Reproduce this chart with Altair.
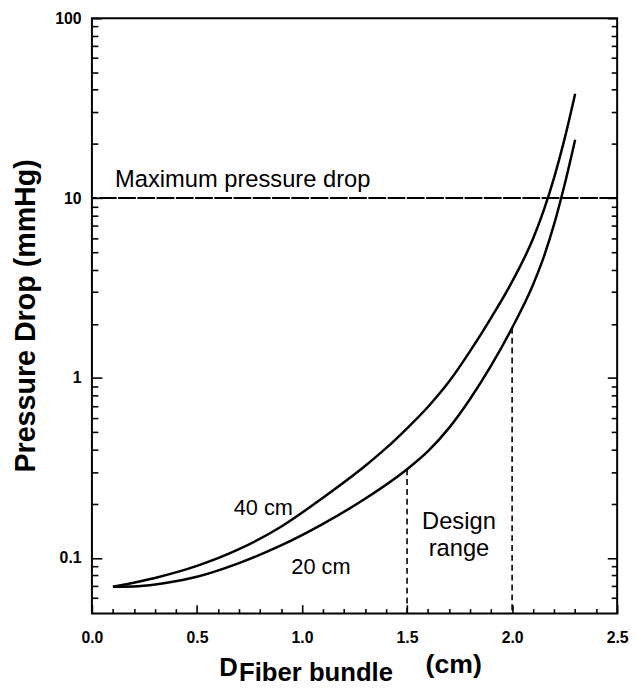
import altair as alt
import pandas as pd

# ---- data ----
x_40 = [0.10, 0.30, 0.50, 0.70, 0.90, 1.10, 1.30, 1.40, 1.50, 1.60, 1.70, 1.80, 1.90,
        2.00, 2.10, 2.15, 2.20, 2.25, 2.30]
p_40 = [0.069, 0.0773, 0.0902, 0.1117, 0.149, 0.216, 0.324, 0.407, 0.525, 0.692, 0.955,
        1.41, 2.16, 3.43, 5.96, 8.51, 13.0, 21.4, 38.0]
x_20 = [0.10, 0.22, 0.35, 0.50, 0.70, 0.90, 1.10, 1.30, 1.50, 1.60, 1.70, 1.80, 1.90,
        2.00, 2.10, 2.15, 2.20, 2.25, 2.30]
p_20 = [0.069, 0.0695, 0.0724, 0.0785, 0.0935, 0.1172, 0.1545, 0.213, 0.311, 0.392, 0.528,
        0.764, 1.17, 1.90, 3.31, 4.68, 7.16, 11.9, 21.1]
series_names = ["40 cm", "20 cm"]

design_x = [1.5, 2.0]
design_top = [0.311, 1.90]
design_bottom = [0.049, 0.049]
max_drop = [10]

x_label_values = [0.0, 0.5, 1.0, 1.5, 2.0, 2.5]
x_tick_values = [0.0, 0.1, 0.2, 0.3, 0.4, 0.5, 0.6, 0.7, 0.8, 0.9, 1.0, 1.1, 1.2, 1.3,
                 1.4, 1.5, 1.6, 1.7, 1.8, 1.9, 2.0, 2.1, 2.2, 2.3, 2.4, 2.5]
y_label_values = [0.1, 1, 10, 100]
y_tick_values = [0.06, 0.07, 0.08, 0.09, 0.1, 0.2, 0.3, 0.4, 0.5, 0.6, 0.7, 0.8, 0.9,
                 1, 2, 3, 4, 5, 6, 7, 8, 9, 10, 20, 30, 40, 50, 60, 70, 80, 90, 100]

curve_labels = ["40 cm", "20 cm"]
curve_label_x = [0.816, 1.09]
curve_label_y = [0.19, 0.089]
design_label = ["Design\nrange"]
design_label_x = [1.747]
design_label_y = [0.158]
max_label = ["Maximum pressure drop"]
max_label_x = [0.11]
max_label_y = [11.5]

FONT = "Liberation Sans"
W, H = 532, 603

curves = pd.concat([
    pd.DataFrame({"x": x_40, "p": p_40, "s": series_names[0]}),
    pd.DataFrame({"x": x_20, "p": p_20, "s": series_names[1]}),
])
design = pd.DataFrame({"x": design_x, "top": design_top, "bottom": design_bottom})
hline = pd.DataFrame({"p": max_drop})
lab_curves = pd.DataFrame({"t": curve_labels, "x": curve_label_x, "y": curve_label_y})
lab_design = pd.DataFrame({"t": design_label, "x": design_label_x, "y": design_label_y})
lab_max = pd.DataFrame({"t": max_label, "x": max_label_x, "y": max_label_y})

xs = alt.Scale(domain=[0, 2.5], nice=False, zero=False)
ys = alt.Scale(type="log", domain=[0.049, 100], nice=False)

x_label_axis = alt.Axis(values=x_label_values, format=".1f", ticks=False, tickSize=0,
                        domain=False, grid=False, labelFont=FONT, labelFontSize=16,
                        labelFontWeight="bold", labelColor="black", labelPadding=16,
                        labelFlush=False, title=None)
y_label_axis = alt.Axis(values=y_label_values, format="~g", ticks=False, tickSize=0,
                        domain=False, grid=False, labelFont=FONT, labelFontSize=16,
                        labelFontWeight="bold", labelColor="black", labelPadding=11,
                        labelFlush=False,
                        title="Pressure Drop (mmHg)", titleFont=FONT, titleFontSize=29,
                        titleFontWeight="bold", titleColor="black", titleX=-58, titleY=301,
                        titleAlign="center", titleBaseline="alphabetic")

y_major = {"condition": {"test": "indexof([0.1, 1, 10, 100], datum.value) >= 0", "value": 10}, "value": 6}
x_major = {"condition": {"test": "abs(datum.value * 2 - round(datum.value * 2)) < 0.001", "value": 9}, "value": 5}

y_tick_left = alt.Axis(orient="right", offset=-W, values=y_tick_values, labels=False,
                       domain=False, grid=False, title=None, tickSize=y_major,
                       tickColor="black", tickWidth=1.6)
y_tick_right = alt.Axis(orient="left", offset=-W, values=y_tick_values, labels=False,
                        domain=False, grid=False, title=None, tickSize=y_major,
                        tickColor="black", tickWidth=1.6)
x_tick_bottom = alt.Axis(orient="top", offset=-H, values=x_tick_values, labels=False,
                         domain=False, grid=False, title=None, tickSize=x_major,
                         tickColor="black", tickWidth=1.6)

lines = alt.Chart(curves).mark_line(interpolate="monotone", color="black", strokeWidth=2.5).encode(
    x=alt.X("x:Q", scale=xs, axis=x_label_axis),
    y=alt.Y("p:Q", scale=ys, axis=y_label_axis),
    detail="s:N",
)

dashes = alt.Chart(design).mark_rule(color="black", strokeWidth=1.6, strokeDash=[6, 4]).encode(
    x=alt.X("x:Q", scale=xs, axis=x_tick_bottom),
    y=alt.Y("top:Q", scale=ys, axis=y_tick_left),
    y2="bottom:Q",
)

maxline = alt.Chart(hline).mark_rule(color="black", strokeWidth=2, strokeDash=[18, 1.5]).encode(
    y=alt.Y("p:Q", scale=ys, axis=y_tick_right),
)

t_curves = alt.Chart(lab_curves).mark_text(font=FONT, fontSize=22, color="black",
                                           baseline="middle").encode(
    x=alt.X("x:Q", scale=xs, axis=None),
    y=alt.Y("y:Q", scale=ys, axis=None),
    text="t:N",
)
t_design = alt.Chart(lab_design).mark_text(font=FONT, fontSize=24, color="black",
                                           lineBreak="\n", lineHeight=27,
                                           baseline="middle").encode(
    x=alt.X("x:Q", scale=xs, axis=None),
    y=alt.Y("y:Q", scale=ys, axis=None),
    text="t:N",
)
t_max = alt.Chart(lab_max).mark_text(font=FONT, fontSize=24, color="black",
                                     align="left", baseline="alphabetic").encode(
    x=alt.X("x:Q", scale=xs, axis=None),
    y=alt.Y("y:Q", scale=ys, axis=None),
    text="t:N",
)

# x-axis title with subscript, drawn as three text pieces below the plot
t_D = alt.Chart(pd.DataFrame({"t": ["D"]})).mark_text(
    font=FONT, fontSize=26, fontWeight="bold", color="black", align="left", baseline="alphabetic"
).encode(x=alt.value(129), y=alt.value(666), text="t:N")
t_sub = alt.Chart(pd.DataFrame({"t": ["Fiber bundle"]})).mark_text(
    font=FONT, fontSize=26, fontWeight="bold", color="black", align="left", baseline="alphabetic"
).encode(x=alt.value(149), y=alt.value(671), text="t:N")
t_cm = alt.Chart(pd.DataFrame({"t": ["(cm)"]})).mark_text(
    font=FONT, fontSize=27, fontWeight="bold", color="black", align="left", baseline="alphabetic"
).encode(x=alt.value(338), y=alt.value(663), text="t:N")

chart = alt.layer(
    lines, dashes, maxline, t_curves, t_design, t_max, t_D, t_sub, t_cm
).resolve_axis(x="independent", y="independent").properties(
    width=W, height=H,
    autosize=alt.AutoSizeParams(type="none"),
    padding={"left": 85, "top": 6, "right": 12, "bottom": 69},
    background="white",
).configure_view(stroke="black", strokeWidth=2)

chart.save("out.html", embed_options={"renderer": "svg", "actions": False})
